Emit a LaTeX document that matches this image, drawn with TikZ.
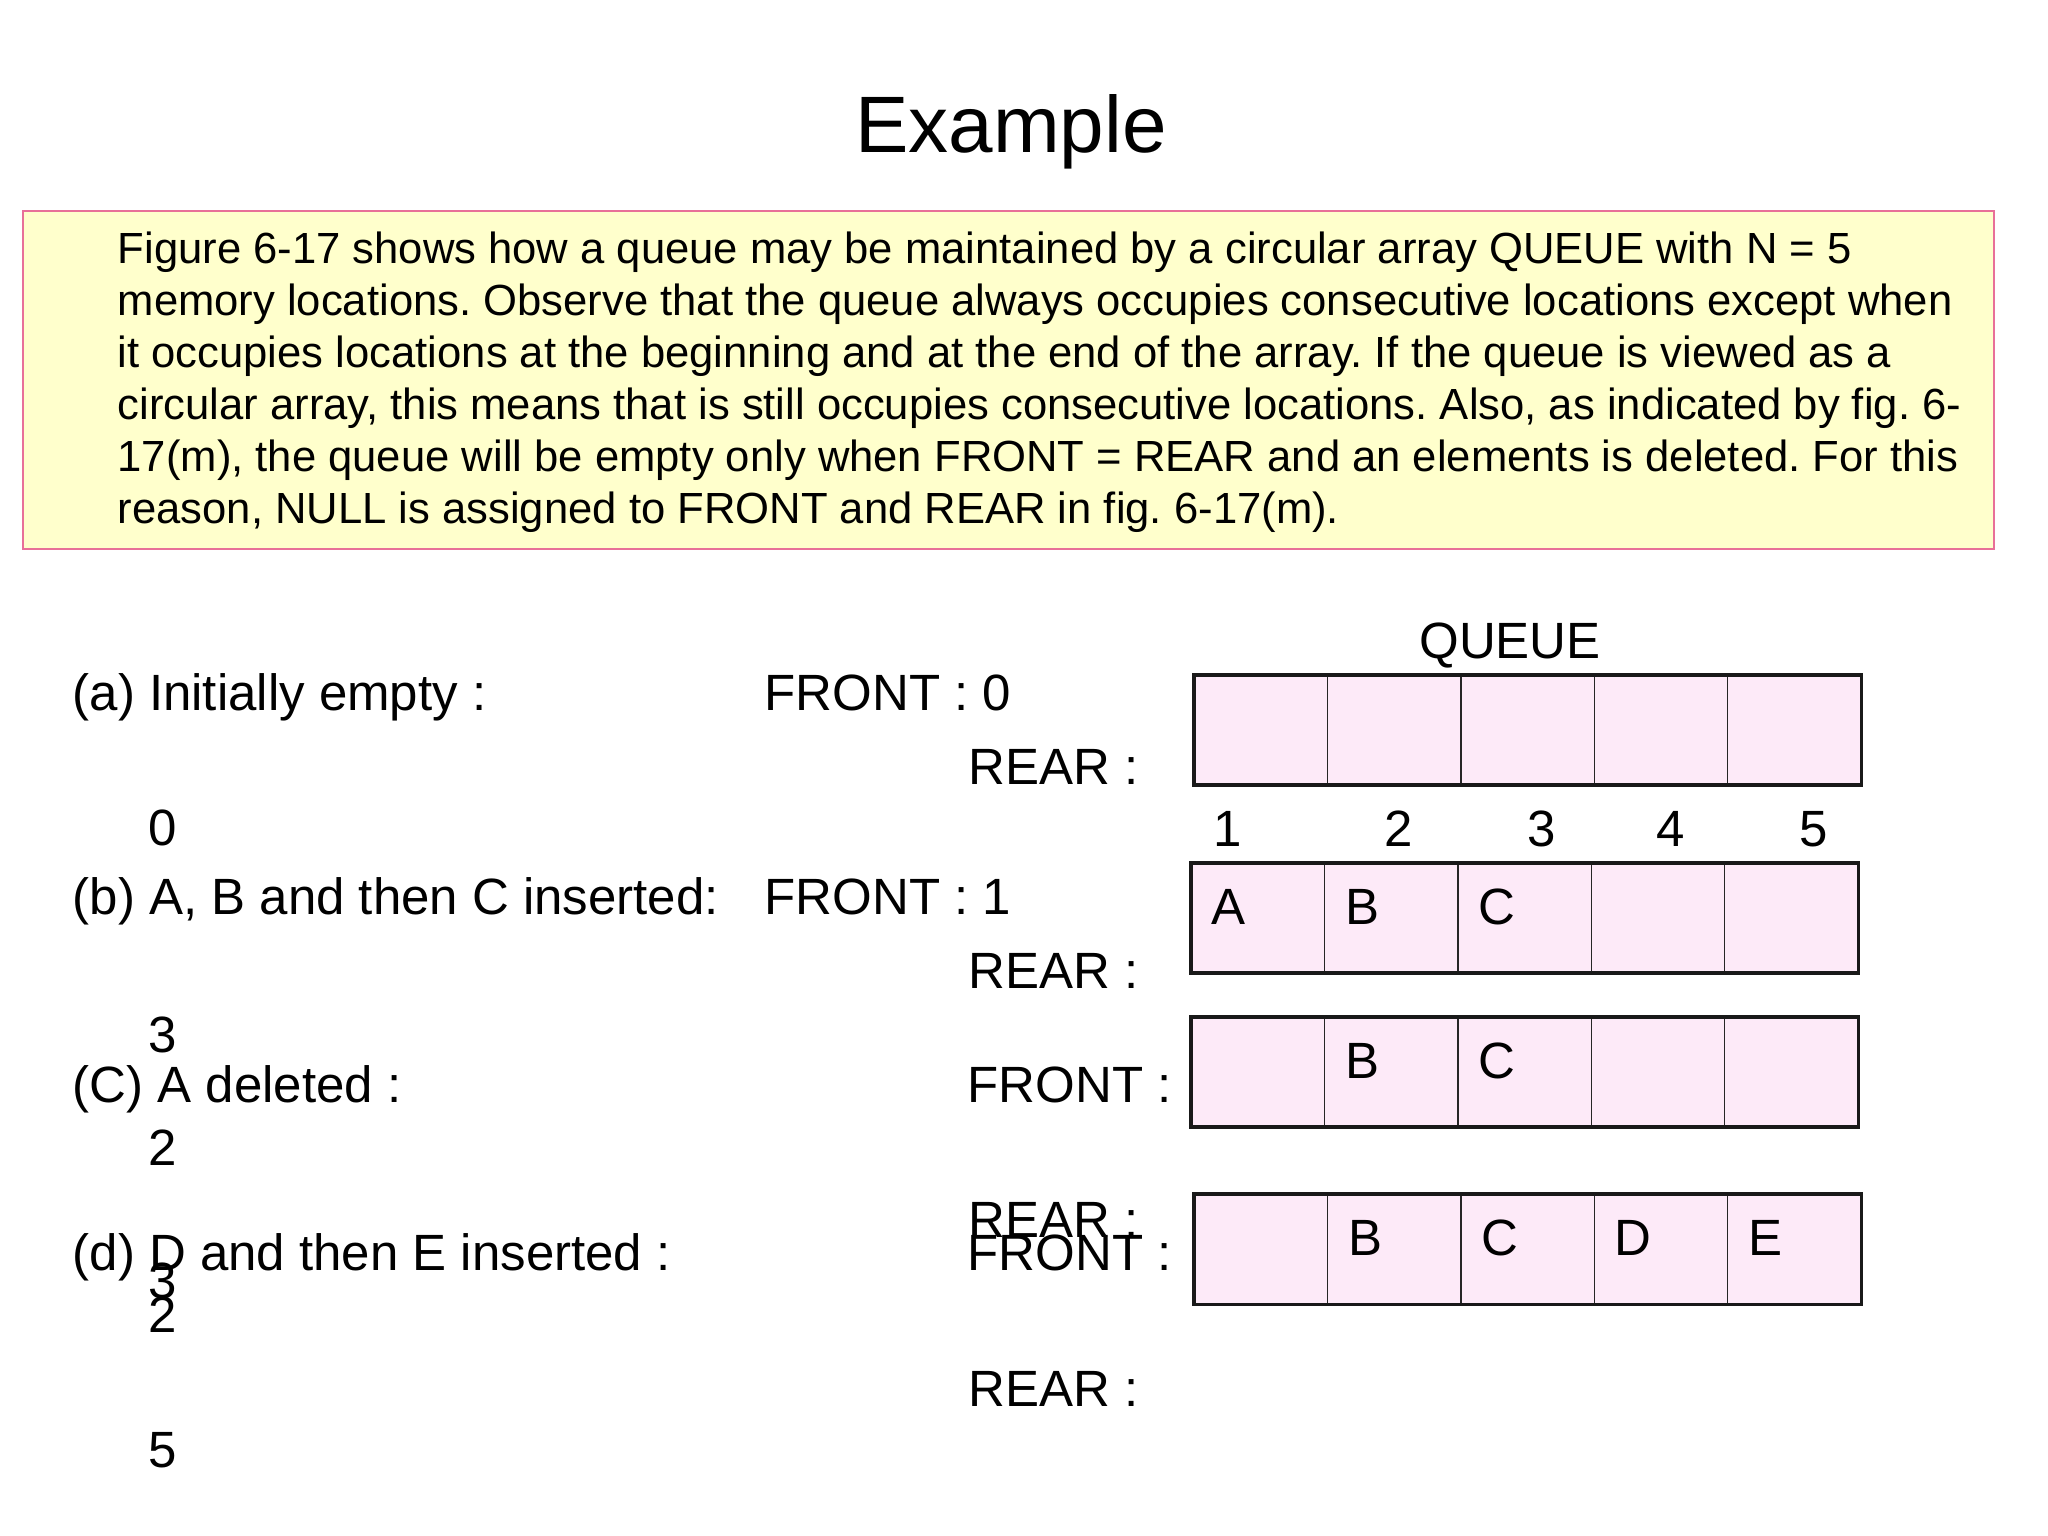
\documentclass[tikz,border=0pt]{standalone}
\usepackage{fontspec}
\setmainfont{Liberation Sans}
\usetikzlibrary{positioning, calc}

\definecolor{noteyellow}{RGB}{255,255,204}
\definecolor{noteborder}{RGB}{232,112,152}
\definecolor{cellpink}{RGB}{253,234,248}

\begin{document}
\begin{tikzpicture}[
    x=0.01cm, y=-0.01cm,
    cell/.style={rectangle, draw=black!85, line width=0.4pt, fill=cellpink, minimum width=1.334cm, minimum height=1.1cm, inner sep=0pt, outer sep=0pt, anchor=north west},
    qframe/.style={draw=black!90, line width=0.9pt},
    lbl/.style={anchor=base west, inner sep=0pt, font=\fontsize{14.5}{17}\selectfont},
    num/.style={anchor=base, inner sep=0pt, font=\fontsize{14.5}{17}\selectfont},
    note/.style={rectangle, draw=noteborder, line width=0.6pt, fill=noteyellow, minimum width=19.70cm, minimum height=3.38cm, inner sep=0pt, anchor=north west}
  ]
  \useasboundingbox (0,0) rectangle (2048,1536);

  % ---- Titel und Text ----
  \node[anchor=base, inner sep=0pt, font=\fontsize{22.76}{27}\selectfont] (title) at (1011,152) {Example};
  \node[note] (notebox) at (22,210) {};
  \node[anchor=north west, inner sep=0pt, align=left, font=\fontsize{12.4}{14.8}\selectfont\frenchspacing] (notetext) at (117,231)
    {Figure 6-17 shows how a queue may be maintained by a circular array QUEUE with N = 5\\
     memory locations. Observe that the queue always occupies consecutive locations except when\\
     it occupies locations at the beginning and at the end of the array. If the queue is viewed as a\\
     circular array, this means that is still occupies consecutive locations. Also, as indicated by fig. 6-\\
     17(m), the queue will be empty only when FRONT = REAR and an elements is deleted. For this\\
     reason, NULL is assigned to FRONT and REAR in fig. 6-17(m).};

  % ---- Arrays ----
  \foreach \r/\x/\y in {a/1194/675, b/1191/863, c/1191/1017, d/1194/1194} {
    \foreach \i in {1,...,5}
      \node[cell] (\r\i) at ({\x+(\i-1)*133.4}, \y) {};
    \draw[qframe] (\r1.north west) rectangle (\r5.south east);
  }
  \foreach \c/\t in {b1/A, b2/B, b3/C, c2/B, c3/C, d2/B, d3/C, d4/D, d5/E}
    \node[lbl] (t-\c) at ($(\c.north west)+(20,61)$) {\t};

  \node[num] (queue) at (1510,658) {QUEUE};
  \foreach \i/\x in {1/1228, 2/1399, 3/1542, 4/1671, 5/1814}
    \node[num] (n\i) at (\x,846) {\i};

  % ---- Schritte ----
  \node[lbl] (sa) at (72,710) {(a) Initially empty :};
  \node[lbl] (sb) at (72,914) {(b) A, B and then C inserted:};
  \node[lbl] (sc) at (72,1102) {(C) A deleted :};
  \node[lbl] (sd) at (72,1270) {(d) D and then E inserted :};

  \node[num] (va) at (163,845) {0};
  \node[num] (vb) at (163,1052) {3};
  \node[num] (vc1) at (163,1165) {2};
  \node[num] (vc2) at (163,1298) {3};
  \node[num] (vd1) at (163,1332) {2};
  \node[num] (vd2) at (163,1467) {5};

  % FRONT / REAR
  \node[lbl] (fa) at (764,710) {FRONT : 0};
  \node[lbl] (ra) at (968,784) {REAR :};
  \node[lbl] (fb) at (764,914) {FRONT : 1};
  \node[lbl] (rb) at (968,988) {REAR :};
  \node[lbl] (fc) at (967,1102) {FRONT :};
  \node[lbl] (rc) at (968,1237) {REAR :};
  \node[lbl] (fd) at (967,1270) {FRONT :};
  \node[lbl] (rd) at (968,1406) {REAR :};
\end{tikzpicture}
\end{document}
